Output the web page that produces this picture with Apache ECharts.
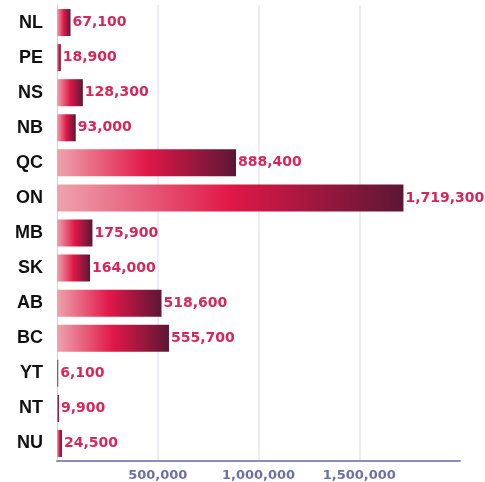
<!DOCTYPE html>
<html>
<head>
<meta charset="utf-8">
<script src="https://cdn.jsdelivr.net/npm/echarts@6/dist/echarts.min.js"></script>
<style>
    html, body { margin: 0; padding: 0; background: #fff; }
    #chart { width: 485px; height: 482px; }
</style>
</head>
<body>
<div id="chart"></div>
<script>
// provinces, top to bottom
const provinces = ['NL', 'PE', 'NS', 'NB', 'QC', 'ON', 'MB', 'SK', 'AB', 'BC', 'YT', 'NT', 'NU'];
const values = [67100, 18900, 128300, 93000, 888400, 1719300, 175900, 164000, 518600, 555700, 6100, 9900, 24500];
const tickValues = [500000, 1000000, 1500000];

const myChart = echarts.init(document.getElementById('chart'));

let option = {
    animation: false,
    grid: {
        left: 57,
        right: 25,
        top: 5,
        bottom: 21
    },
    xAxis: {
        type: 'value',
        min: 0,
        max: 2000000,
        interval: 500000,
        axisLine: {
            show: true,
            lineStyle: { color: '#8a8cc0', width: 2 }
        },
        axisTick: { show: false },
        splitLine: {
            show: true,
            lineStyle: {
                // no line at the 0 and 2,000,000 ends
                color: ['rgba(0,0,0,0)', '#e6e6ee', '#e6e6ee', '#e6e6ee', 'rgba(0,0,0,0)'],
                width: 1.5
            }
        },
        axisLabel: {
            color: '#6c70a6',
            fontWeight: 'bold',
            fontSize: 13,
            fontFamily: 'DejaVu Sans',
            margin: 8,
            formatter: function (v) {
                return tickValues.indexOf(v) >= 0 ? v.toLocaleString('en-US') : '';
            }
        }
    },
    yAxis: {
        type: 'category',
        inverse: true,
        data: provinces,
        axisLine: {
            show: true,
            lineStyle: { color: '#cfcfdc', width: 1 }
        },
        axisTick: { show: false },
        axisLabel: {
            color: '#111',
            fontWeight: 'bold',
            fontSize: 18,
            fontFamily: 'Liberation Sans',
            margin: 14
        }
    },
    series: [{
        type: 'bar',
        data: values,
        barWidth: 27,
        itemStyle: {
            color: new echarts.graphic.LinearGradient(0, 0, 1, 0, [
                { offset: 0, color: '#eea3ad' },
                { offset: 0.5, color: '#e01848' },
                { offset: 1, color: '#5c1634' }
            ])
        },
        label: {
            show: true,
            position: 'right',
            distance: 2,
            color: '#d8265a',
            fontWeight: 'bold',
            fontSize: 14,
            fontFamily: 'DejaVu Sans',
            formatter: function (p) {
                return p.value.toLocaleString('en-US');
            }
        }
    }]
};

myChart.setOption(option);
</script>
</body>
</html>
